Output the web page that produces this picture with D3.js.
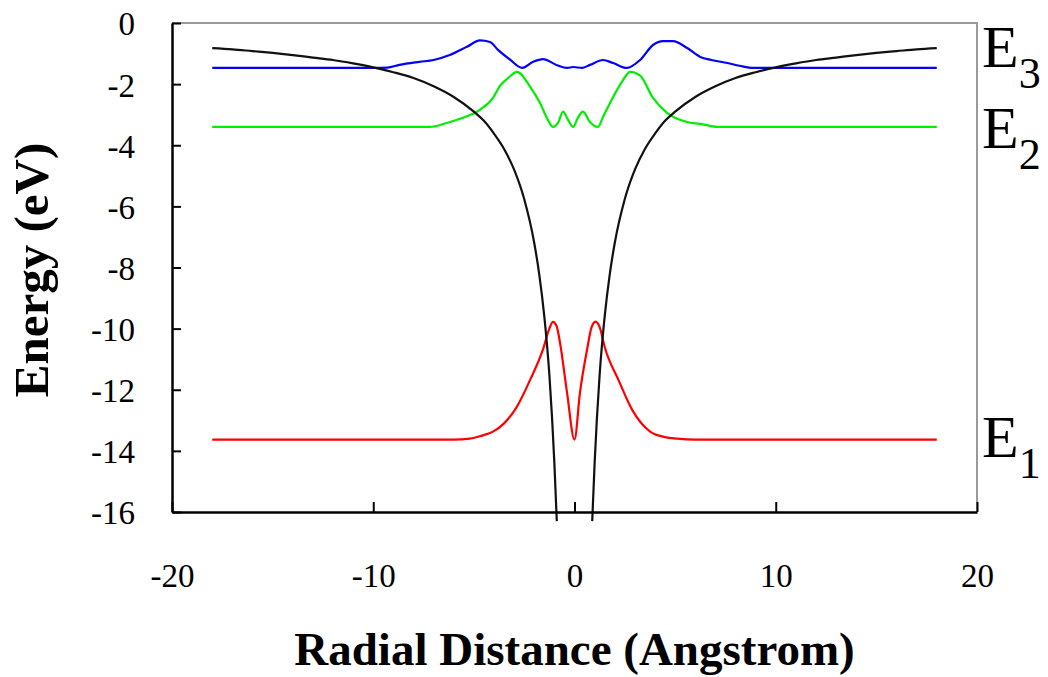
<!DOCTYPE html>
<html>
<head>
<meta charset="utf-8">
<script src="https://cdn.jsdelivr.net/npm/d3@7"></script>
<style>
  body { margin: 0; background: #fff; }
  svg { display: block; }
  svg text { font-family: "Liberation Serif", "Times New Roman", serif; }
</style>
</head>
<body>
<script>
// potential energy curve (black), null leaves the gap at the nucleus
var potX = [-18, -17, -16, -15, -14, -13, -12, -11, -10, -9, -8, -7, -6, -5, -4.5, -4, -3.5, -3, -2.5, -2, -1.75, -1.5, -1.25, -1, -0.88,
            0,
            0.88, 1, 1.25, 1.5, 1.75, 2, 2.5, 3, 3.5, 4, 4.5, 5, 6, 7, 8, 9, 10, 11, 12, 13, 14, 15, 16, 17, 18];
var potE = [-0.82, -0.86, -0.92, -0.98, -1.05, -1.13, -1.21, -1.32, -1.45, -1.61, -1.8, -2.07, -2.42, -2.9, -3.2, -3.62, -4.12, -4.8, -5.76, -7.2, -8.23, -9.6, -11.5, -14.4, -16.3,
            null,
            -16.3, -14.4, -11.5, -9.6, -8.23, -7.2, -5.76, -4.8, -4.12, -3.62, -3.2, -2.9, -2.42, -2.07, -1.8, -1.61, -1.45, -1.32, -1.21, -1.13, -1.05, -0.98, -0.92, -0.86, -0.82];

// E3 level (blue)
var e3X = [-18, -10, -9.3, -8.7, -7.7, -7.0, -6.2, -5.35, -4.7, -4.2, -3.8, -3.2, -2.6, -2.06, -1.57, -0.87, -0.37, -0.07, 0.37, 0.77, 1.42, 1.92, 2.6, 3.26, 3.9, 4.4, 4.9, 5.6, 6.25, 6.8, 7.6, 8.2, 8.9, 10, 18];
var e3E = [-1.47, -1.47, -1.46, -1.37, -1.27, -1.21, -1.05, -0.78, -0.57, -0.62, -0.88, -1.2, -1.47, -1.27, -1.18, -1.38, -1.47, -1.44, -1.47, -1.37, -1.21, -1.31, -1.47, -1.21, -0.72, -0.59, -0.59, -0.82, -1.11, -1.21, -1.31, -1.4, -1.47, -1.47, -1.47];

// E2 level (green)
var e2X = [-18, -7.2, -6.35, -5.55, -4.7, -4.05, -3.7, -3.3, -2.86, -2.2, -1.72, -1.32, -1.07, -0.82, -0.57, -0.32, -0.07, 0.17, 0.42, 0.77, 1.17, 1.42, 1.92, 2.42, 2.76, 3.26, 3.9, 4.6, 5.6, 6.25, 7.1, 18];
var e2E = [-3.4, -3.4, -3.27, -3.1, -2.84, -2.45, -2.05, -1.8, -1.6, -2.09, -2.61, -3.17, -3.4, -3.27, -2.9, -3.17, -3.4, -3.1, -2.9, -3.24, -3.4, -3.07, -2.42, -1.86, -1.6, -1.72, -2.45, -2.94, -3.24, -3.3, -3.4, -3.4];

// E1 level (red)
var e1X = [-18, -6, -5.2, -4.6, -4.05, -3.5, -2.86, -2.2, -1.57, -1.25, -1.07, -0.9, -0.72, -0.37, 0, 0.27, 0.62, 0.85, 1.05, 1.25, 1.5, 2.2, 2.86, 3.76, 4.5, 5.1, 6, 18];
var e1E = [-13.63, -13.63, -13.6, -13.5, -13.37, -13.1, -12.55, -11.67, -10.69, -10.0, -9.78, -9.9, -10.46, -12.1, -13.63, -12.1, -10.7, -9.95, -9.77, -9.95, -10.6, -11.7, -12.65, -13.37, -13.55, -13.6, -13.63, -13.63];

var xTicks = [-20, -10, 0, 10, 20];
var yTicks = [0, -2, -4, -6, -8, -10, -12, -14, -16];

// level labels on the right, anchored at an energy value
var levelNames = ["3", "2", "1"];
var levelAt = [-1.45, -4.08, -14.21];

var W = 1048, H = 677;
var x = d3.scaleLinear().domain([-20, 20]).range([172, 977]);
var y = d3.scaleLinear().domain([-16, 0]).range([512, 23]);

var svg = d3.select("body").append("svg")
    .attr("width", W)
    .attr("height", H);

function zipper(xs, ys) {
  return xs.map(function(v, i) { return [v, ys[i]]; });
}

var line = d3.line()
    .defined(function(d) { return d[1] !== null; })
    .x(function(d) { return x(d[0]); })
    .y(function(d) { return y(d[1]); })
    .curve(d3.curveMonotoneX);

// frame: grey top/right
svg.append("path")
    .attr("d", "M" + x(-20) + "," + y(0) + "H" + x(20) + "V" + y(-16))
    .attr("fill", "none")
    .attr("stroke", "#9a9a9a")
    .attr("stroke-width", 2);

var series = [
  { pts: zipper(e1X, e1E), color: "#ff0000" },
  { pts: zipper(e2X, e2E), color: "#00ee00" },
  { pts: zipper(e3X, e3E), color: "#0000ff" },
  { pts: zipper(potX, potE), color: "#111111" }
];

svg.selectAll("path.curve")
    .data(series)
    .enter()
    .append("path")
    .attr("class", "curve")
    .attr("d", function(d) { return line(d.pts); })
    .attr("fill", "none")
    .attr("stroke", function(d) { return d.color; })
    .attr("stroke-width", 2.2);

// axes
var plain = function(d) { return String(d); };

var yAxis = d3.axisLeft(y)
    .tickValues(yTicks)
    .tickSizeInner(-9)
    .tickSizeOuter(0)
    .tickPadding(37)
    .tickFormat(plain);

var xAxis = d3.axisBottom(x)
    .tickValues(xTicks)
    .tickSizeInner(-10)
    .tickSizeOuter(0)
    .tickPadding(52)
    .tickFormat(plain);

var gy = svg.append("g")
    .attr("transform", "translate(" + x(-20) + ",0)")
    .call(yAxis);

var gx = svg.append("g")
    .attr("transform", "translate(0," + y(-16) + ")")
    .call(xAxis);

[gx, gy].forEach(function(g) {
  g.attr("font-family", null);
  g.select(".domain").attr("stroke", "#000").attr("stroke-width", 2.5);
  g.selectAll(".tick line").attr("stroke", "#000").attr("stroke-width", 2);
  g.selectAll(".tick text")
    .attr("font-size", "33px")
    .attr("fill", "#000");
});
gy.selectAll(".tick text").attr("dy", "0.36em");

// axis titles
svg.append("text")
    .attr("x", (x(-20) + x(20)) / 2)
    .attr("y", 665)
    .attr("text-anchor", "middle")
    .attr("font-weight", "bold")
    .attr("font-size", "47px")
    .text("Radial Distance (Angstrom)");

svg.append("text")
    .attr("transform", "translate(48," + 270 + ") rotate(-90)")
    .attr("text-anchor", "middle")
    .attr("font-weight", "bold")
    .attr("font-size", "49px")
    .text("Energy (eV)");

// E labels
var lab = svg.selectAll("text.level")
    .data(levelNames)
    .enter()
    .append("text")
    .attr("class", "level")
    .attr("x", 982)
    .attr("y", function(d, i) { return y(levelAt[i]); })
    .attr("font-size", "60px")
    .attr("fill", "#000");

lab.append("tspan").text("E");
lab.append("tspan")
    .attr("font-size", "44px")
    .attr("dy", 21)
    .text(function(d) { return d; });
</script>
</body>
</html>
